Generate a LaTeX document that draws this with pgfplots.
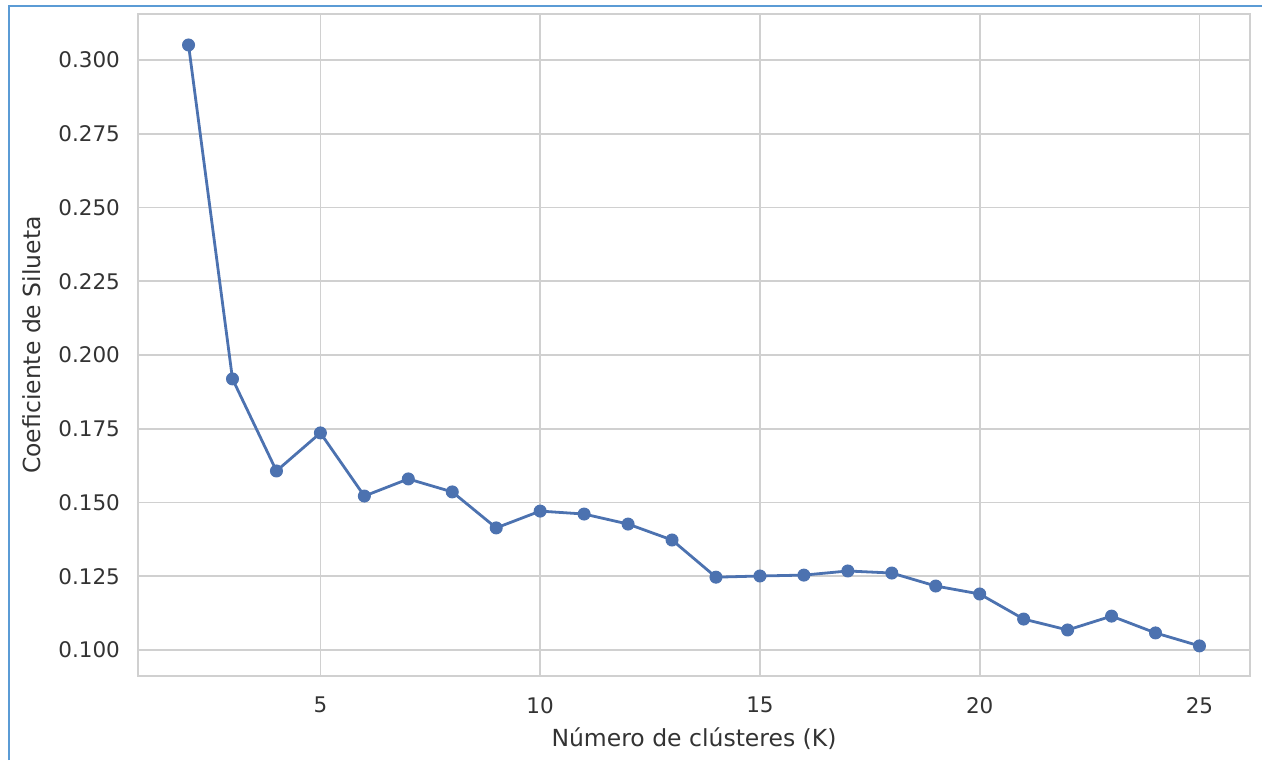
\documentclass[border=0pt]{standalone}
\usepackage{fontspec}
\setmainfont{DejaVu Sans}
\usepackage{pgfplots}
\pgfplotsset{compat=1.18}
\definecolor{sbblue}{HTML}{4C72B0}
\definecolor{gridgray}{HTML}{D0D0D0}
\definecolor{txtgray}{HTML}{333333}
\definecolor{frameblue}{HTML}{5B9BD5}
\begin{document}
\begin{tikzpicture}[x=1pt,y=1pt]
\path[use as bounding box] (0,0) rectangle (631,380);
\draw[frameblue,line width=1pt] (4.5,0) -- (4.5,377) -- (631,377);
\begin{axis}[
  at={(69pt,42pt)}, anchor=south west,
  scale only axis, width=556pt, height=331pt,
  xmin=0.85, xmax=26.15, ymin=0.0912, ymax=0.3156,
  xtick={5,10,15,20,25},
  ytick={0.100,0.125,0.150,0.175,0.200,0.225,0.250,0.275,0.300},
  /pgf/number format/assume math mode=true,
  yticklabel style={/pgf/number format/fixed,/pgf/number format/fixed zerofill,/pgf/number format/precision=3},
  scaled y ticks=false,
  grid=major,
  major grid style={gridgray,line width=0.8pt},
  axis line style={gridgray,line width=1pt},
  major tick length=0pt,
  tick label style={font=\fontsize{10.75}{12}\selectfont, text=txtgray},
  xticklabel style={yshift=-7pt},
  yticklabel style={xshift=-5.5pt},
  label style={font=\fontsize{11.75}{13}\selectfont, text=txtgray},
  xlabel={Número de clústeres (K)},
  ylabel={Coeficiente de Silueta},
  xlabel style={yshift=-0.5pt},
  ylabel style={yshift=2pt},
]
\addplot[sbblue, line width=1.4pt, mark=*, mark size=3pt, mark options={fill=sbblue, draw=sbblue, line width=0.5pt}] coordinates {
(2,0.3051) (3,0.1919) (4,0.1607) (5,0.1736) (6,0.1522) (7,0.1580)
(8,0.1536) (9,0.1414) (10,0.1471) (11,0.1461) (12,0.1427) (13,0.1373)
(14,0.1247) (15,0.1251) (16,0.1254) (17,0.1268) (18,0.1261) (19,0.1217)
(20,0.1190) (21,0.1105) (22,0.1068) (23,0.1115) (24,0.1058) (25,0.1014)
};
\end{axis}
\end{tikzpicture}
\end{document}
